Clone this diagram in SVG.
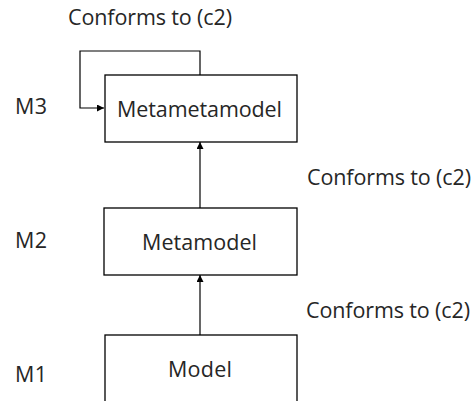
<svg xmlns="http://www.w3.org/2000/svg" width="472" height="401" viewBox="0 0 472 401">
  <style>
    .box { fill: #ffffff; stroke: #000000; stroke-width: 1.3; }
    .lbl { font-family: "Open Sans", "Liberation Sans", Arial, sans-serif; font-size: 21.5px; fill: #262626; }
    .mid { text-anchor: middle; }
    .edge { fill: none; stroke: #000000; stroke-width: 1.2; }
  </style>
  <defs>
    <marker id="arrow" viewBox="0 0 10 10" refX="10" refY="5" markerWidth="7" markerHeight="7" markerUnits="userSpaceOnUse" orient="auto">
      <path d="M0,0 L10,5 L0,10 z" fill="#000000"/>
    </marker>
  </defs>

  <!-- level labels -->
  <g id="levels">
    <text class="lbl" x="15" y="114" textLength="32">M3</text>
    <text class="lbl" x="15" y="248" textLength="32">M2</text>
    <text class="lbl" x="15" y="382" textLength="32">M1</text>
  </g>

  <!-- connectors -->
  <g id="connectors">
    <path class="edge" d="M200,75 V51 H80 V108 H104" marker-end="url(#arrow)"/>
    <path class="edge" d="M200,208 V142" marker-end="url(#arrow)"/>
    <path class="edge" d="M200,335 V275" marker-end="url(#arrow)"/>
    <text class="lbl" x="68" y="25" textLength="164">Conforms to (c2)</text>
    <text class="lbl" x="307" y="185" textLength="164">Conforms to (c2)</text>
    <text class="lbl" x="306" y="318" textLength="164">Conforms to (c2)</text>
  </g>

  <g id="metametamodel">
    <rect class="box" x="105" y="75" width="192" height="67"/>
    <text class="lbl" x="117" y="117" textLength="165">Metametamodel</text>
  </g>

  <g id="metamodel">
    <rect class="box" x="104" y="208" width="193" height="67"/>
    <text class="lbl" x="142" y="250" textLength="115">Metamodel</text>
  </g>

  <g id="model">
    <rect class="box" x="105" y="335" width="192" height="80"/>
    <text class="lbl" x="168" y="377" textLength="64">Model</text>
  </g>
</svg>
